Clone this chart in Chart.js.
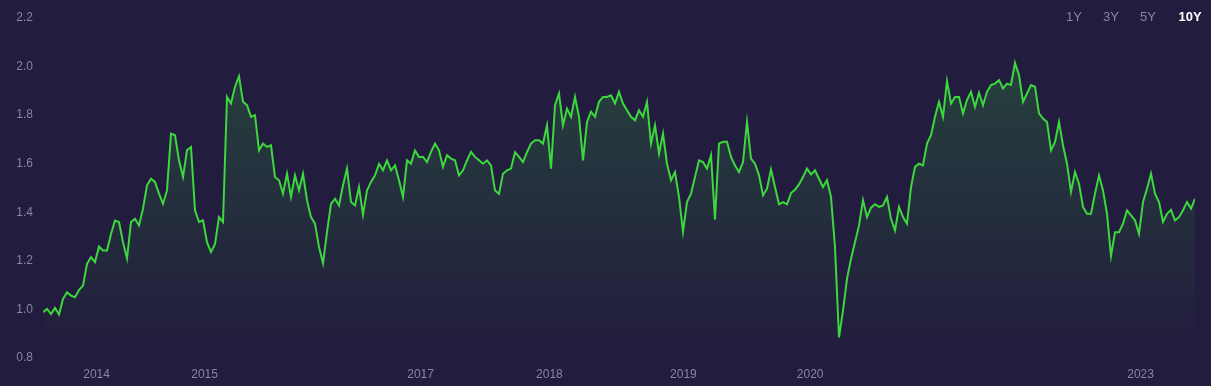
<!DOCTYPE html>
<html>
<head>
<meta charset="utf-8">
<script src="https://cdn.jsdelivr.net/npm/chart.js@4.4.1/dist/chart.umd.min.js"></script>
<style>
  html, body { margin: 0; padding: 0; background: #221c3e; }
  #wrap { position: relative; width: 1211px; height: 386px; background: #221c3e; overflow: hidden; }
  canvas { position: absolute; left: 0; top: 0; }
  .btn { position: absolute; top: 16px; transform: translate(-50%, -50%); font-family: "Liberation Sans", Arial, sans-serif; font-size: 13px; color: #8a84a6; white-space: nowrap; }
  .btn.active { color: #ffffff; font-weight: bold; }
</style>
</head>
<body>
<div id="wrap">
  <canvas id="c" width="1211" height="386"></canvas>
  <span class="btn" style="left:1074px">1Y</span>
  <span class="btn" style="left:1111px">3Y</span>
  <span class="btn" style="left:1148px">5Y</span>
  <span class="btn active" style="left:1190px">10Y</span>
</div>
<script>
// Series values (roughly weekly samples, Jul 2013 – Jun 2023)
const seriesA = [
  0.988, 1.002, 0.981, 1.006, 0.979, 1.043, 1.071, 1.057, 1.050, 1.080,
  1.098, 1.188, 1.215, 1.195, 1.259, 1.243, 1.243, 1.311, 1.366, 1.360,
  1.277, 1.21, 1.360, 1.373, 1.346, 1.415, 1.511, 1.538, 1.525, 1.477,
  1.435, 1.490, 1.724, 1.717, 1.614, 1.545, 1.655, 1.669, 1.408, 1.360,
  1.367, 1.277, 1.236, 1.270, 1.380, 1.36, 1.875, 1.848, 1.917, 1.96,
  1.855, 1.841, 1.793, 1.800, 1.655, 1.683, 1.669
];
const seriesB = [
  1.676, 1.545, 1.532, 1.477, 1.559, 1.463, 1.552, 1.490, 1.559, 1.449,
  1.380, 1.353, 1.257, 1.19, 1.318, 1.435, 1.456, 1.428, 1.511, 1.580,
  1.442, 1.428, 1.504, 1.39, 1.490, 1.525, 1.552, 1.600, 1.573, 1.614,
  1.573, 1.593, 1.532, 1.463, 1.614, 1.600, 1.655, 1.628, 1.628, 1.607,
  1.649, 1.683, 1.655, 1.587, 1.635, 1.621, 1.614, 1.552, 1.573, 1.614,
  1.649, 1.628, 1.614, 1.600, 1.614, 1.593, 1.490, 1.476, 1.559
];
const seriesC = [
  1.573, 1.580, 1.648, 1.628, 1.607, 1.648, 1.683, 1.697, 1.697, 1.683,
  1.758, 1.58, 1.841, 1.889, 1.758, 1.827, 1.793, 1.875, 1.793, 1.614,
  1.772, 1.814, 1.793, 1.855, 1.875, 1.875, 1.882, 1.848, 1.896, 1.848,
  1.820, 1.793, 1.779, 1.820, 1.793, 1.855, 1.683, 1.758, 1.642, 1.724,
  1.600, 1.532, 1.566, 1.463, 1.32, 1.442, 1.477, 1.545, 1.614, 1.607,
  1.580, 1.635, 1.37, 1.683, 1.690, 1.690, 1.628, 1.593, 1.566
];
const seriesD = [
  1.607, 1.772, 1.621, 1.600, 1.552, 1.470, 1.497, 1.576, 1.504, 1.433,
  1.442, 1.433, 1.479, 1.493, 1.515, 1.545, 1.580, 1.556, 1.573, 1.538,
  1.504, 1.532, 1.463, 1.256, 0.885, 0.995, 1.126, 1.208, 1.277, 1.346,
  1.45, 1.380, 1.419, 1.433, 1.422, 1.428, 1.463, 1.373, 1.325, 1.422,
  1.380, 1.353, 1.504, 1.587, 1.600, 1.593, 1.683, 1.717, 1.793, 1.855,
  1.793, 1.94, 1.848, 1.875, 1.875, 1.807, 1.862, 1.896, 1.834
];
const seriesE = [
  1.892, 1.841, 1.896, 1.924, 1.930, 1.944, 1.910, 1.930, 1.924, 2.015,
  1.965, 1.855, 1.889, 1.924, 1.917, 1.807, 1.786, 1.772, 1.655, 1.690,
  1.772, 1.676, 1.600, 1.484, 1.566, 1.518, 1.422, 1.394, 1.394, 1.477,
  1.552, 1.490, 1.394, 1.22, 1.318, 1.318, 1.353, 1.408, 1.387, 1.367,
  1.311, 1.442, 1.497, 1.559, 1.477, 1.442, 1.360, 1.394, 1.410, 1.367,
  1.380, 1.408, 1.442, 1.415, 1.456
];
// X-axis tick labels and where (in sample index units) they sit
const tickLabels = ['2014', '2015', '2017', '2018', '2019', '2020', '2023'];
const tickPositions = [13.4, 40.4, 94.4, 126.6, 160.1, 191.8, 274.4];
// Y-axis range
const yTicks = [0.8, 1.0, 1.2, 1.4, 1.6, 1.8, 2.0, 2.2];

const values = [].concat(seriesA, seriesB, seriesC, seriesD, seriesE);
const points = values.map((v, i) => ({ x: i, y: v }));

const labelColor = '#8a84a6';
const font = { family: '"Liberation Sans", Arial, sans-serif', size: 12 };

new Chart(document.getElementById('c'), {
  type: 'line',
  data: {
    datasets: [{
      data: points,
      borderColor: '#3dd83d',
      borderWidth: 2,
      pointRadius: 0,
      tension: 0,
      fill: 'start',
      backgroundColor: (ctx) => {
        const chart = ctx.chart;
        const area = chart.chartArea;
        if (!area) return 'rgba(61,216,61,0.15)';
        const g = chart.ctx.createLinearGradient(0, area.top, 0, area.bottom);
        g.addColorStop(0, 'rgba(61,216,61,0.22)');
        g.addColorStop(0.55, 'rgba(61,216,61,0.10)');
        g.addColorStop(1, 'rgba(61,216,61,0)');
        return g;
      }
    }]
  },
  options: {
    responsive: false,
    animation: false,
    devicePixelRatio: 1,
    layout: { padding: { top: 18, right: 16, left: 0, bottom: 0 } },
    plugins: { legend: { display: false }, tooltip: { enabled: false } },
    scales: {
      x: {
        type: 'linear',
        min: 0,
        max: values.length - 1,
        grid: { display: false, drawTicks: false },
        border: { display: false },
        afterBuildTicks: (s) => { s.ticks = tickPositions.map(v => ({ value: v })); },
        afterFit: (s) => { s.height = 28; },
        ticks: {
          autoSkip: false,
          maxRotation: 0,
          padding: 9,
          color: labelColor,
          font: font,
          callback: (v, i) => tickLabels[i]
        }
      },
      y: {
        min: yTicks[0],
        max: yTicks[yTicks.length - 1],
        grid: { display: false, drawTicks: false },
        border: { display: false },
        afterBuildTicks: (s) => { s.ticks = yTicks.map(v => ({ value: v })); },
        afterFit: (s) => { s.width = 43; },
        ticks: {
          padding: 10,
          color: labelColor,
          font: font,
          callback: (v) => Number(v).toFixed(1)
        }
      }
    }
  }
});
</script>
</body>
</html>
